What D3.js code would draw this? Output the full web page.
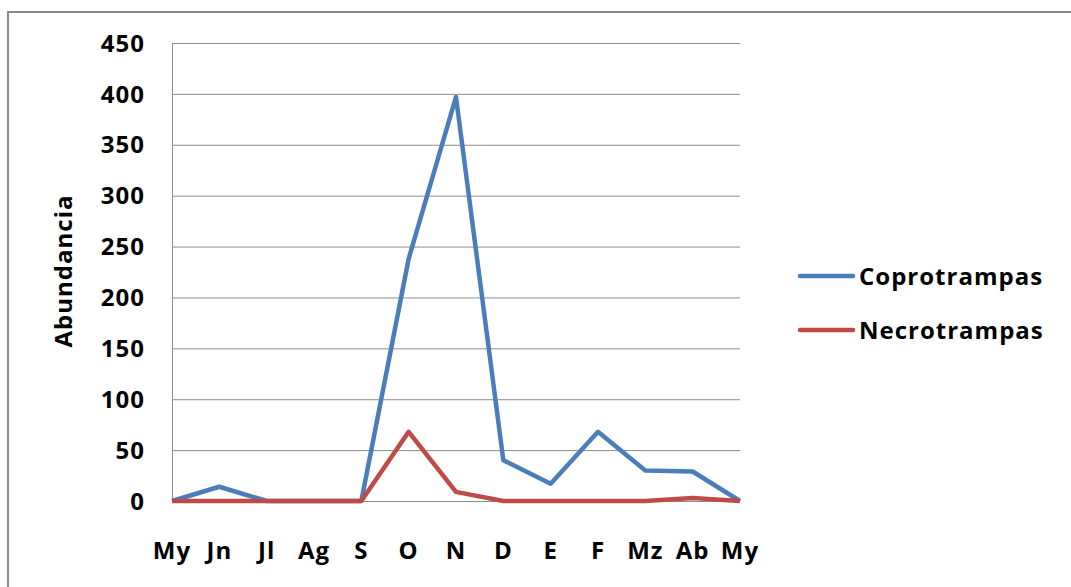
<!DOCTYPE html>
<html>
<head>
<meta charset="utf-8">
<script src="https://cdn.jsdelivr.net/npm/d3@7"></script>
<style>
  body { margin: 0; background: #fff; }
  svg text { font-family: "Open Sans", Lato, sans-serif; font-weight: bold; fill: #000; letter-spacing: 1px; }
</style>
</head>
<body>
<div id="chart"></div>
<script>
// months along the x axis
var months = ['My', 'Jn', 'Jl', 'Ag', 'S', 'O', 'N', 'D', 'E', 'F', 'Mz', 'Ab', 'My'];
var coprotrampas = [0, 14, 0, 0, 0, 238, 397, 40, 17, 68, 30, 29, 0];
var necrotrampas = [0, 0, 0, 0, 0, 68, 9, 0, 0, 0, 0, 3, 0];
var yTicks = [0, 50, 100, 150, 200, 250, 300, 350, 400, 450];
var seriesNames = ['Coprotrampas', 'Necrotrampas'];
var seriesColors = ['#4a7ebb', '#be4b48'];

(function() {
    var W = 1071, H = 587;
    var fs = 24;
    var svg = d3.select('#chart').append('svg').attr('width', W).attr('height', H);

    // outer frame (runs off the right and bottom edge)
    svg.append('rect')
        .attr('x', 8).attr('y', 12)
        .attr('width', W + 20).attr('height', H + 20)
        .attr('fill', 'none').attr('stroke', '#8a8a8a').attr('stroke-width', 2);

    var pl = 172, pr = 740, pt = 43, pb = 501;

    var x = d3.scalePoint().domain(d3.range(months.length)).range([pl, pr]);
    var y = d3.scaleLinear().domain([0, 450]).range([pb, pt]);

    // gridlines
    svg.append('g').selectAll('line').data(yTicks).enter().append('line')
        .attr('x1', pl).attr('x2', pr)
        .attr('y1', function(d) { return y(d) + 0.5; })
        .attr('y2', function(d) { return y(d) + 0.5; })
        .attr('stroke', '#8c8c8c').attr('stroke-width', 1);

    // y axis line
    svg.append('line')
        .attr('x1', pl + 0.5).attr('x2', pl + 0.5)
        .attr('y1', pt).attr('y2', pb)
        .attr('stroke', '#8c8c8c');

    // y tick labels
    svg.append('g').selectAll('text').data(yTicks).enter().append('text')
        .attr('x', 145)
        .attr('y', function(d) { return y(d); })
        .attr('dy', '0.36em')
        .attr('text-anchor', 'end')
        .attr('font-size', fs)
        .text(function(d) { return d; });

    // x labels
    svg.append('g').selectAll('text').data(months).enter().append('text')
        .attr('x', function(d, i) { return x(i); })
        .attr('y', 559)
        .attr('text-anchor', 'middle')
        .attr('font-size', fs)
        .text(function(d) { return d; });

    // y axis title
    svg.append('text')
        .attr('transform', 'translate(72,271) rotate(-90)')
        .attr('text-anchor', 'middle')
        .attr('font-size', fs)
        .text('Abundancia');

    var line = d3.line()
        .x(function(d, i) { return x(i); })
        .y(function(d) { return y(d); });

    [coprotrampas, necrotrampas].forEach(function(vals, k) {
        svg.append('path')
            .datum(vals)
            .attr('d', line)
            .attr('fill', 'none')
            .attr('stroke', seriesColors[k])
            .attr('stroke-width', 4.5)
            .attr('stroke-linejoin', 'round');
    });

    // legend
    var legend = svg.append('g').selectAll('g').data(seriesNames).enter().append('g')
        .attr('transform', function(d, i) { return 'translate(800,' + (276 + i * 54) + ')'; });
    legend.append('line')
        .attr('x1', 0).attr('x2', 53)
        .attr('stroke', function(d, i) { return seriesColors[i]; })
        .attr('stroke-width', 4.5)
        .attr('stroke-linecap', 'round');
    legend.append('text')
        .attr('x', 59).attr('dy', '0.36em')
        .attr('font-size', fs)
        .text(function(d) { return d; });
})();
</script>
</body>
</html>
